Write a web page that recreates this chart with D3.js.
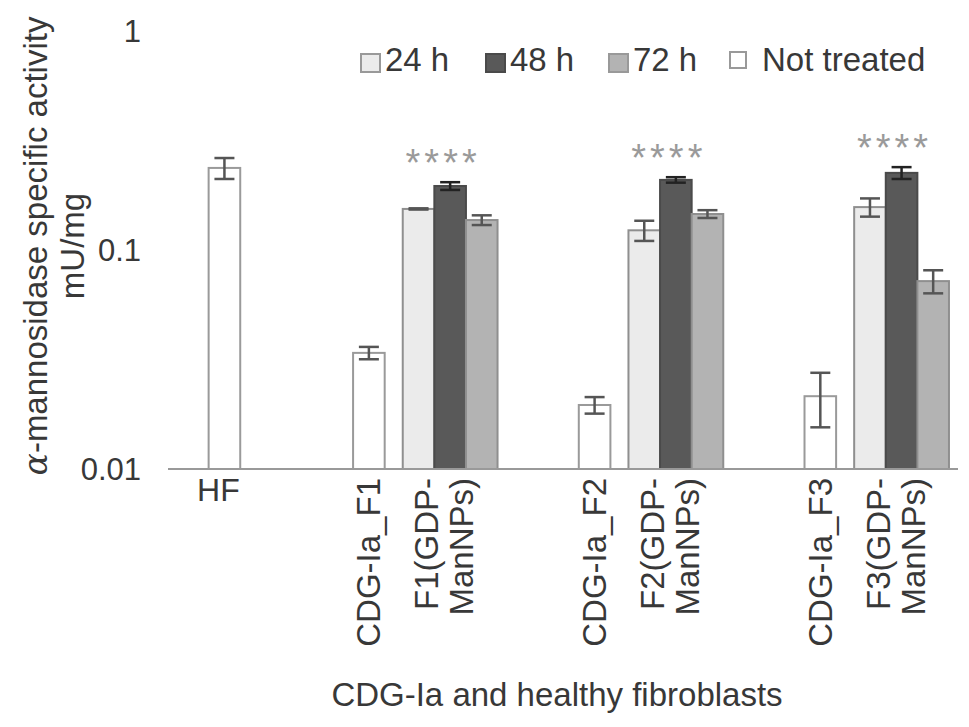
<!DOCTYPE html>
<html lang="en">
  <head>
    <meta charset="utf-8" />
    <title>alpha-mannosidase specific activity</title>
    <script src="https://cdn.jsdelivr.net/npm/d3@7"></script>
    <style>
      body { margin: 0; background: #fff; }
      text { font-family: "Liberation Sans", Arial, sans-serif; fill: #383838; }
    </style>
  </head>
  <body>
    <script>
      var categories = ["HF", "CDG-Ia_F1", "F1(GDP-ManNPs)", "CDG-Ia_F2", "F2(GDP-ManNPs)", "CDG-Ia_F3", "F3(GDP-ManNPs)"]
      var series = ["24 h", "48 h", "72 h", "Not treated"]
      var yTicks = [0.01, 0.1, 1]

      var h24 = [null, null, 0.154, null, 0.123, null, 0.157]
      var h24Err = [null, null, 0.001, null, 0.013, null, 0.015]
      var h48 = [null, null, 0.196, null, 0.209, null, 0.225]
      var h48Err = [null, null, 0.008, null, 0.006, null, 0.014]
      var h72 = [null, null, 0.137, null, 0.146, null, 0.0721]
      var h72Err = [null, null, 0.007, null, 0.006, null, 0.0087]
      var notTreated = [0.237, 0.0339, null, 0.0196, null, 0.0215, null]
      var notTreatedErr = [0.026, 0.0022, null, 0.0017, null, 0.006, null]
      var stars = [null, null, "****", null, "****", null, "****"]

      var values = [h24, h48, h72, notTreated]
      var errors = [h24Err, h48Err, h72Err, notTreatedErr]
      var fills = ["#ebebeb", "#595959", "#b3b3b3", "#ffffff"]
      var strokes = ["#8f8f8f", "#4a4a4a", "#8f8f8f", "#9a9a9a"]

      var width = 969, height = 727
      var svg = d3.select("body").append("svg")
                  .attr("width", width)
                  .attr("height", height)

      var xScale = d3.scaleBand().domain(categories).range([168, 958])
      var barW = 31.6
      var xSub = d3.scaleBand().domain(["24 h", "48 h", "72 h"]).range([-1.5 * barW, 1.5 * barW])
      var yScale = d3.scaleLog().domain([0.01, 1]).range([469, 31])

      function center(c) { return xScale(c) + xScale.bandwidth() / 2 }
      // untreated bar sits in the middle slot for HF, in the right slot for the CDG lines
      function slotOf(s, c) {
        if (s < 3) return series[s]
        return c === "HF" ? "48 h" : "72 h"
      }

      var bars = []
      values.forEach(function(arr, s) {
        arr.forEach(function(v, i) {
          if (v == null) return
          bars.push({s: s, c: categories[i], v: v, e: errors[s][i]})
        })
      })

      var g = svg.append("g")
      g.selectAll("rect.bar").data(bars).enter().append("rect")
        .attr("class", "bar")
        .attr("x", function(d) { return center(d.c) + xSub(slotOf(d.s, d.c)) })
        .attr("width", xSub.bandwidth())
        .attr("y", function(d) { return yScale(d.v) })
        .attr("height", function(d) { return yScale(0.01) - yScale(d.v) })
        .attr("fill", function(d) { return fills[d.s] })
        .attr("stroke", function(d) { return strokes[d.s] })
        .attr("stroke-width", 2)

      var eb = g.selectAll("g.err").data(bars).enter().append("g")
        .attr("class", "err")
        .attr("stroke", function(d) { return d.s === 1 ? "#222" : "#555" })
        .attr("stroke-width", 2.5)
      eb.append("line")
        .attr("x1", function(d) { return center(d.c) + xSub(slotOf(d.s, d.c)) + xSub.bandwidth() / 2 })
        .attr("x2", function(d) { return center(d.c) + xSub(slotOf(d.s, d.c)) + xSub.bandwidth() / 2 })
        .attr("y1", function(d) { return yScale(d.v + d.e) })
        .attr("y2", function(d) { return yScale(d.v - d.e) })
      ;[1, -1].forEach(function(sign) {
        eb.append("line")
          .attr("x1", function(d) { return center(d.c) + xSub(slotOf(d.s, d.c)) + xSub.bandwidth() / 2 - 10 })
          .attr("x2", function(d) { return center(d.c) + xSub(slotOf(d.s, d.c)) + xSub.bandwidth() / 2 + 10 })
          .attr("y1", function(d) { return yScale(d.v + sign * d.e) })
          .attr("y2", function(d) { return yScale(d.v + sign * d.e) })
      })

      // significance stars above the 48 h bars
      g.selectAll("text.star").data(categories.filter(function(c, i) { return stars[i] })).enter()
        .append("text")
        .attr("class", "star")
        .attr("x", function(c) { return center(c) - 7 })
        .attr("y", function(c) {
          var i = categories.indexOf(c)
          return yScale(h48[i] + h48Err[i]) - 6
        })
        .attr("text-anchor", "middle")
        .style("font-size", "38px")
        .style("letter-spacing", "4px")
        .style("fill", "#9a9a9a")
        .text(function(c) { return stars[categories.indexOf(c)] })

      // x axis line
      svg.append("line")
        .attr("x1", xScale.range()[0]).attr("x2", xScale.range()[1])
        .attr("y1", yScale(0.01)).attr("y2", yScale(0.01))
        .attr("stroke", "#999").attr("stroke-width", 2)

      // y tick labels
      svg.selectAll("text.ytick").data(yTicks).enter().append("text")
        .attr("class", "ytick")
        .attr("x", 141)
        .attr("y", function(d) { return yScale(d) })
        .attr("dy", "0.35em")
        .attr("text-anchor", "end")
        .style("font-size", "31px")
        .text(function(d) { return d3.format("~g")(d) })

      // category labels
      categories.forEach(function(c, i) {
        if (c === "HF") {
          svg.append("text")
            .attr("x", center(c) - 6).attr("y", 501)
            .attr("text-anchor", "middle")
            .style("font-size", "32px")
            .text(c)
          return
        }
        var parts = c.indexOf("(") > 0 ? [c.slice(0, c.indexOf("-") + 1), c.slice(c.indexOf("-") + 1)] : [c]
        var cx = parts.length === 1 ? center(c) + xSub("72 h") + xSub.bandwidth() / 2 : center(c) - 6
        parts.forEach(function(p, k) {
          var x = cx + (k - (parts.length - 1) / 2) * 35
          svg.append("text")
            .attr("transform", "translate(" + x + ",478) rotate(-90)")
            .attr("text-anchor", "end")
            .attr("dy", "0.35em")
            .style("font-size", "33px")
            .text(p)
        })
      })

      // axis titles
      svg.append("text")
        .attr("x", 557).attr("y", 706)
        .attr("text-anchor", "middle")
        .style("font-size", "33px")
        .text("CDG-Ia and healthy fibroblasts")

      var yt = svg.append("text")
        .attr("transform", "translate(35,246) rotate(-90)")
        .attr("text-anchor", "middle")
        .attr("dy", "0.35em")
        .style("font-size", "33px")
      yt.append("tspan").style("font-style", "italic").style("font-family", "'DejaVu Serif', serif").text("α")
      yt.append("tspan").text("-mannosidase specific activity")
      svg.append("text")
        .attr("transform", "translate(72,246) rotate(-90)")
        .attr("text-anchor", "middle")
        .attr("dy", "0.35em")
        .style("font-size", "33px")
        .text("mU/mg")

      // legend
      var legX = [360, 485, 608, 729]
      var legend = svg.selectAll("g.leg").data(series).enter().append("g")
        .attr("class", "leg")
        .attr("transform", function(d, i) { return "translate(" + legX[i] + ",0)" })
      legend.append("rect")
        .attr("x", 1).attr("y", function(d, i) { return i === 3 ? 52 : 54 })
        .attr("width", function(d, i) { return i === 3 ? 16 : 19 })
        .attr("height", function(d, i) { return i === 3 ? 16 : 18 })
        .attr("fill", function(d, i) { return fills[i] })
        .attr("stroke", function(d, i) { return i === 1 ? "#4a4a4a" : "#999" })
        .attr("stroke-width", 2)
      legend.append("text")
        .attr("x", function(d, i) { return i === 3 ? 33 : 25 })
        .attr("y", 71)
        .style("font-size", "33px")
        .text(function(d) { return d })
    </script>
  </body>
</html>
